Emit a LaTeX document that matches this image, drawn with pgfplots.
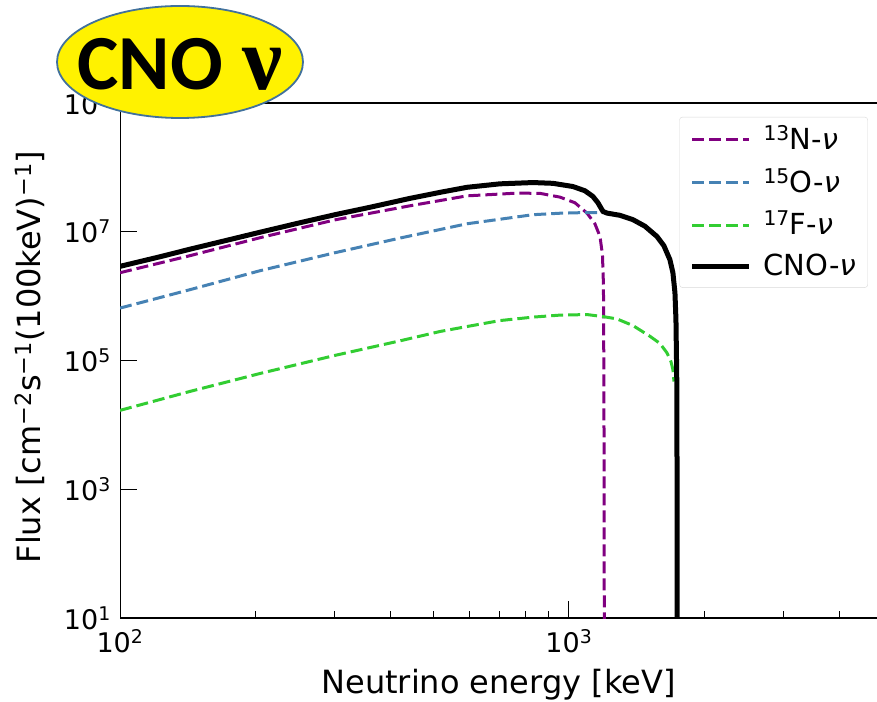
\documentclass[border=0pt]{standalone}
\usepackage{fontspec}
\setmainfont{DejaVu Sans}
\newfontfamily\titlefont{Carlito}
\newfontfamily\nufont{Liberation Serif}
\usepackage{pgfplots}
\pgfplotsset{compat=1.18}
\definecolor{cpurple}{HTML}{800080}
\definecolor{cblue}{HTML}{4682B4}
\definecolor{cgreen}{HTML}{32CD32}
\definecolor{ellborder}{HTML}{41719C}
\begin{document}
\fontsize{27}{32}\selectfont
\begin{tikzpicture}
\useasboundingbox (-120pt,-83pt) rectangle (757pt,618pt);
\begin{axis}[
  at={(0pt,0pt)}, anchor=south west,
  scale only axis, width=757pt, height=515pt,
  xmode=log, ymode=log,
  xmin=100, xmax=4856, ymin=10, ymax=1e9,
  axis y line*=left,
  x axis line style={line width=1.4pt},
  y axis line style={line width=1pt},
  tick align=inside,
  major tick length=17pt, minor tick length=7pt,
  every tick/.style={black, line width=0.9pt},
  xtick pos=bottom, ytick pos=left,
  xtick={100,1000}, xticklabels={10\textsuperscript{2},10\textsuperscript{3}},
  minor xtick={200,300,400,500,600,700,800,900,2000,3000,4000},
  ytick={10,1e3,1e5,1e7,1e9},
  yticklabels={10\textsuperscript{1},10\textsuperscript{3},10\textsuperscript{5},10\textsuperscript{7},10\textsuperscript{9}},
  yminorticks=false,
  /pgf/number format/assume math mode=true,
  xticklabel style={yshift=-2pt},
  xlabel={Neutrino energy [keV]},
  xlabel style={at={(axis description cs:0.5,0)}, anchor=center, yshift=-67pt, font=\fontsize{32}{36}\selectfont},
  legend style={at={(0.988,0.973)}, anchor=north east, draw=black!15, rounded corners=3pt,
    fill=white, inner xsep=10pt, inner ysep=6pt, row sep=11pt, font=\fontsize{29}{33}\selectfont,
    /tikz/every odd column/.append style={column sep=10pt}},
  legend cell align=left,
  legend image code/.code={\draw[#1] (0pt,0pt) -- (57pt,0pt);},
]
\addplot[cpurple, line width=3pt, dash pattern=on 12pt off 5pt] coordinates {
(100,2.31e6) (143.2,4.25e6) (205,8.07e6) (301.2,1.53e7) (442.5,2.53e7) (592.8,3.61e7) (765.9,3.98e7)
(861.8,3.95e7) (955,3.45e7) (1031.3,2.82e7) (1097,1.95e7) (1142.6,1.33e7) (1172.6,8.45e6)
(1187.6,4.40e6) (1193.7,1.51e6) (1196.7,3.19e4) (1199,5)};
\addlegendentry{\textsuperscript{13}N-\textit{ν}}
\addplot[cblue, line width=3pt, dash pattern=on 12pt off 5pt] coordinates {
(100,6.52e5) (143.2,1.26e6) (205,2.48e6) (301.2,4.72e6) (420.4,7.98e6) (592.8,1.33e7) (831.6,1.84e7)
(955,1.94e7) (1097,1.99e7) (1190.6,1.99e7)};
\addlegendentry{\textsuperscript{15}O-\textit{ν}}
\addplot[cgreen, line width=3pt, dash pattern=on 12pt off 5pt] coordinates {
(100,1.68e4) (143.2,3.31e4) (205,6.28e4) (301.2,1.20e5) (420.4,2.02e5) (516,2.82e5) (592.8,3.37e5)
(702,4.17e5) (831.6,4.72e5) (955,5.07e5) (1097,5.17e5) (1190.6,4.81e5) (1279,4.43e5)
(1388.6,3.49e5) (1515,2.38e5) (1595,1.84e5) (1653,1.32e5) (1687.5,9.64e4) (1704.7,7.24e4) (1713.8,4.72e4)};
\addlegendentry{\textsuperscript{17}F-\textit{ν}}
\addplot[black, line width=5pt] coordinates {
(100,2.90e6) (122.8,4.09e6) (143.2,5.36e6) (171.3,7.25e6) (205,9.82e6) (251.7,1.38e7)
(301.2,1.84e7) (360.5,2.40e7) (442.5,3.30e7) (516,4.09e7) (592.8,4.90e7) (702,5.55e7)
(831.6,5.81e7) (921.3,5.65e7) (1020.7,5.04e7) (1085.5,4.33e7) (1131,3.53e7) (1160.3,2.82e7)
(1190.6,2.07e7) (1215.2,1.95e7) (1299.2,1.80e7) (1388.6,1.54e7) (1476.5,1.22e7)
(1570.4,8.45e6) (1627.4,6.07e6) (1678.7,3.68e6) (1704.7,2.31e6) (1722.6,1.13e6)
(1731.5,4.32e5) (1740.3,3.19e4) (1742,5)};
\addlegendentry{CNO-\textit{ν}}
\end{axis}
\node[rotate=90, anchor=center, font=\fontsize{32}{36}\selectfont] at (-90pt,261pt)
  {Flux [cm\textsuperscript{−2}s\textsuperscript{−1}(100keV)\textsuperscript{−1}]};
\draw[ellborder, line width=1.8pt, fill=yellow] (60pt,556pt) ellipse [x radius=123pt, y radius=56pt];
\node[anchor=base, inner sep=0pt] at (60pt,528pt) {\titlefont\bfseries\fontsize{78}{84}\selectfont CNO\hspace{0.25em}{\nufont\fontsize{90}{96}\selectfont ν}};
\end{tikzpicture}
\end{document}
